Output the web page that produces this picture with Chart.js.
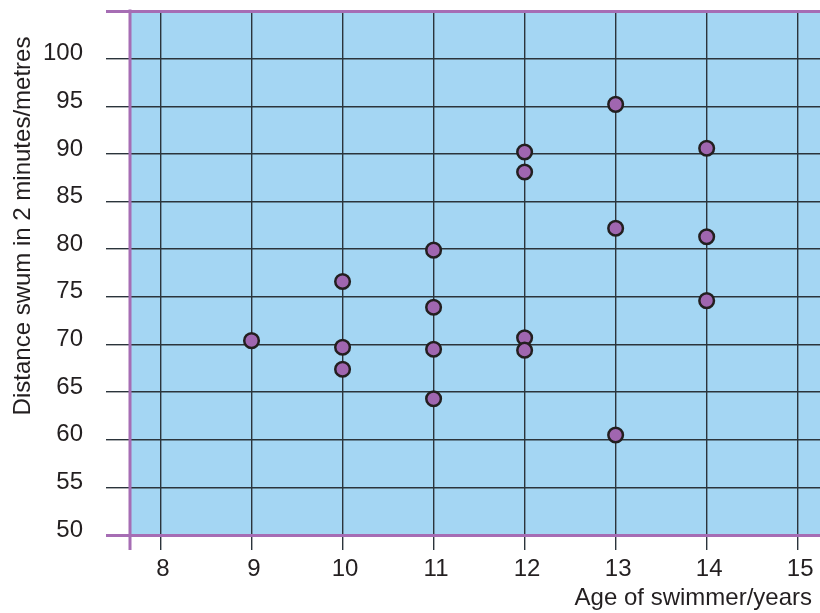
<!DOCTYPE html>
<html>
<head>
<meta charset="utf-8">
<script src="https://cdn.jsdelivr.net/npm/chart.js@4/dist/chart.umd.min.js"></script>
<style>
  html, body { margin: 0; padding: 0; background: #fff; }
  #wrap { width: 820px; height: 613px; position: relative; }
</style>
</head>
<body>
<div id="wrap"><canvas id="chart"></canvas></div>
<script>
// ages (x) and distances (y)
const ages      = [9,    10,   10,   10,   11,   11,   11,   11,   12,   12,   12,   12,   13,   13,   13,   14,   14,   14];
const distances = [70.4, 76.6, 69.7, 67.4, 79.9, 73.9, 69.5, 64.3, 90.2, 88.1, 70.7, 69.4, 95.2, 82.2, 60.5, 90.6, 81.3, 74.6];
const xTicks = [8, 9, 10, 11, 12, 13, 14, 15];
const yTicks = [50, 55, 60, 65, 70, 75, 80, 85, 90, 95, 100, 105];

const PURPLE = '#a66db4';
const GRID = '#2b343b';
const TEXT = '#231f20';
const FONT = "'Liberation Sans', Arial, sans-serif";

const points = ages.map((a, i) => ({ x: a, y: distances[i] }));

// blue plot background, purple left axis, and the two axis titles
const decor = {
  id: 'decor',
  beforeDraw(chart) {
    const { ctx, chartArea: a } = chart;
    ctx.save();
    ctx.fillStyle = '#a4d6f3';
    ctx.fillRect(a.left, a.top, a.right - a.left, a.bottom - a.top);
    ctx.restore();
  },
  afterDatasetsDraw(chart) {
    const { ctx, chartArea: a } = chart;
    ctx.save();
    ctx.strokeStyle = PURPLE;
    ctx.lineWidth = 3;
    ctx.beginPath();
    ctx.moveTo(a.left, a.top - 1.5);
    ctx.lineTo(a.left, a.bottom + 15);
    ctx.stroke();

    ctx.fillStyle = TEXT;
    ctx.font = '24px ' + FONT;
    ctx.textAlign = 'right';
    ctx.textBaseline = 'middle';
    ctx.fillText('Age of swimmer/years', 812, 598);

    ctx.translate(23, 226);
    ctx.rotate(-Math.PI / 2);
    ctx.textAlign = 'center';
    ctx.fillText('Distance swum in 2 minutes/metres', 0, 0);
    ctx.restore();
  }
};

new Chart(document.getElementById('chart'), {
  type: 'scatter',
  data: {
    datasets: [{
      data: points,
      pointRadius: 7.3,
      pointHoverRadius: 7.3,
      pointBackgroundColor: '#a066b0',
      pointBorderColor: '#231f20',
      pointBorderWidth: 2.5,
      clip: false
    }]
  },
  options: {
    responsive: true,
    maintainAspectRatio: false,
    animation: false,
    layout: { autoPadding: false, padding: { top: 11, right: 0, left: 0, bottom: 0 } },
    plugins: { legend: { display: false }, tooltip: { enabled: false } },
    scales: {
      x: {
        type: 'linear',
        min: 7.665,
        max: 15.245,
        afterBuildTicks: s => { s.ticks = xTicks.map(v => ({ value: v })); },
        afterFit: s => { s.height = 78; s.paddingLeft = 0; s.paddingRight = 0; },
        border: { display: false },
        grid: { color: GRID, lineWidth: 1.4, tickLength: 15, drawOnChartArea: true },
        ticks: {
          color: TEXT, font: { family: FONT, size: 24 }, padding: 5, labelOffset: 2.5,
          maxRotation: 0, autoSkip: false
        }
      },
      y: {
        min: 50,
        max: 105,
        afterBuildTicks: s => { s.ticks = yTicks.map(v => ({ value: v })); },
        afterFit: s => { s.width = 130; s.paddingTop = 0; s.paddingBottom = 0; },
        border: { display: false },
        grid: {
          tickLength: 24,
          color: c => (c.tick && (c.tick.value === 50 || c.tick.value === 105)) ? PURPLE : GRID,
          lineWidth: c => (c.tick && (c.tick.value === 50 || c.tick.value === 105)) ? 3 : 1.4
        },
        ticks: {
          color: TEXT, font: { family: FONT, size: 24 }, padding: 23, labelOffset: -5,
          callback: v => v === 105 ? '' : v
        }
      }
    }
  },
  plugins: [decor]
});
</script>
</body>
</html>
